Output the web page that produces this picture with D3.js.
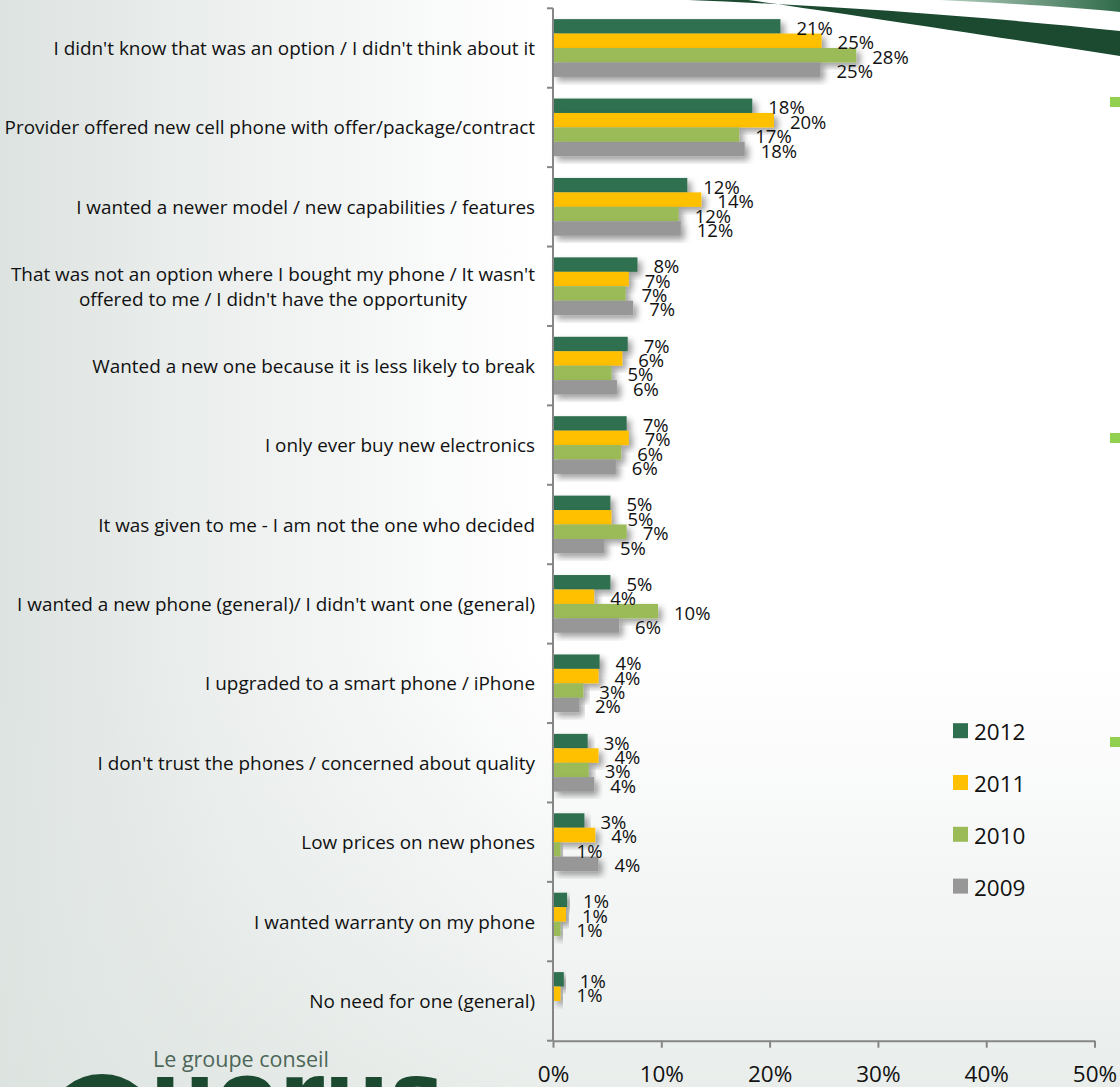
<!DOCTYPE html>
<html>
<head>
<meta charset="utf-8">
<script src="https://cdn.jsdelivr.net/npm/d3@7"></script>
<style>
  html, body { margin: 0; padding: 0; overflow: hidden; background: #ffffff; }
  svg { display: block; }
</style>
</head>
<body>
<svg id="chart" width="1120" height="1087"></svg>
<script>
// Reasons for buying a new (rather than refurbished) cell phone, by survey year
const categories = [
  "I didn't know that was an option / I didn't think about it",
  "Provider offered new cell phone with offer/package/contract",
  "I wanted a newer model / new capabilities / features",
  "That was not an option where I bought my phone / It wasn't\noffered to me / I didn't have the opportunity",
  "Wanted a new one because it is less likely to break",
  "I only ever buy new electronics",
  "It was given to me - I am not the one who decided",
  "I wanted a new phone (general)/ I didn't want one (general)",
  "I upgraded to a smart phone / iPhone",
  "I don't trust the phones / concerned about quality",
  "Low prices on new phones",
  "I wanted warranty on my phone",
  "No need for one (general)"
];

const seriesNames = ["2012", "2011", "2010", "2009"];

const values2012 = [21.0, 18.4, 12.4, 7.8, 6.9, 6.8, 5.3, 5.3, 4.3, 3.2, 2.9, 1.3, 1.0];
const values2011 = [24.8, 20.4, 13.7, 7.0, 6.4, 7.0, 5.4, 3.8, 4.2, 4.2, 3.9, 1.2, 0.7];
const values2010 = [28.0, 17.2, 11.6, 6.7, 5.4, 6.3, 6.8, 9.7, 2.8, 3.3, 0.7, 0.7, null];
const values2009 = [24.7, 17.7, 11.8, 7.4, 5.9, 5.8, 4.7, 6.1, 2.4, 3.8, 4.2, null, null];

const seriesColors = ["#2e6f4f", "#ffc000", "#9bbb59", "#979797"];
const xTicks = [0, 10, 20, 30, 40, 50];

const seriesValues = [values2012, values2011, values2010, values2009];

const W = 1120, H = 1087;
const FONT = "'Open Sans', 'Noto Sans', sans-serif";

const svg = d3.select("#chart");
const defs = svg.append("defs");

// ---- slide background ----
const gH = defs.append("linearGradient").attr("id", "bgH")
  .attr("x1", 0).attr("y1", 0).attr("x2", 1).attr("y2", 0);
gH.append("stop").attr("offset", 0).attr("stop-color", "#dde3e0");
gH.append("stop").attr("offset", 0.22).attr("stop-color", "#eef1f0");
gH.append("stop").attr("offset", 0.48).attr("stop-color", "#ffffff");
gH.append("stop").attr("offset", 1).attr("stop-color", "#ffffff");

const gV = defs.append("linearGradient").attr("id", "bgV")
  .attr("x1", 0).attr("y1", 0).attr("x2", 0).attr("y2", 1);
gV.append("stop").attr("offset", 0.6).attr("stop-color", "#e2e8e5").attr("stop-opacity", 0);
gV.append("stop").attr("offset", 1).attr("stop-color", "#dde4e0").attr("stop-opacity", 0.65);

svg.append("rect").attr("width", W).attr("height", H).attr("fill", "url(#bgH)");
svg.append("rect").attr("width", W).attr("height", H).attr("fill", "url(#bgV)");

// decorative swoosh, top right
const gSw = defs.append("linearGradient").attr("id", "swLight")
  .attr("x1", 0).attr("y1", 0).attr("x2", 1).attr("y2", 0);
gSw.append("stop").attr("offset", 0).attr("stop-color", "#b7cfc0");
gSw.append("stop").attr("offset", 1).attr("stop-color", "#2f6a4a");

svg.append("path")
  .attr("d", "M940,0 C1005,3 1070,7 1120,12 L1120,0 Z")
  .attr("fill", "url(#swLight)");
svg.append("path")
  .attr("d", "M688,0 C820,5 980,16 1120,31 L1120,56 C990,36 840,13 748,0 Z")
  .attr("fill", "#1b4a31");

// bullet squares of the slide at the right edge
[97, 433, 737].forEach(yy => {
  svg.append("rect").attr("x", 1110).attr("y", yy).attr("width", 10).attr("height", 10)
    .attr("fill", "#92d050");
});

// ---- logo, bottom left ----
const logo = svg.append("g");
logo.append("circle").attr("cx", 102).attr("cy", 1131).attr("r", 48)
  .attr("fill", "#d9dedb").attr("stroke", "#1c4a30").attr("stroke-width", 18);
logo.append("text").attr("x", 150).attr("y", 1128)
  .attr("font-family", "'DejaVu Sans', sans-serif").attr("font-weight", "bold")
  .attr("font-size", 92).attr("fill", "#1c4a30").text("uorus");
logo.append("text").attr("x", 153).attr("y", 1067)
  .attr("font-family", FONT).attr("font-size", 21.5).attr("fill", "#4d6658")
  .text("Le groupe conseil");

// ---- scales ----
const x = d3.scaleLinear().domain([0, 50]).range([553, 1094.5]);
const y = d3.scaleBand().domain(categories).range([8.3, 1040.7]).padding(0);
const inner = d3.scaleBand().domain(seriesNames).range([0, y.bandwidth()])
  .paddingInner(0).paddingOuter(0.75);

// drop shadow under bars
const sh = defs.append("filter").attr("id", "barShadow")
  .attr("x", "-10%").attr("y", "-30%").attr("width", "130%").attr("height", "180%");
sh.append("feDropShadow").attr("dx", 4).attr("dy", 4).attr("stdDeviation", 3)
  .attr("flood-color", "#000").attr("flood-opacity", 0.38);

// ---- bars ----
const rows = categories.map((c, i) => ({
  cat: c,
  items: seriesNames.map((s, k) => ({ s, k, v: seriesValues[k][i] }))
}));

const groups = svg.append("g").selectAll("g.cat").data(rows).join("g")
  .attr("class", "cat")
  .attr("transform", d => `translate(0,${y(d.cat)})`);

groups.selectAll("rect").data(d => d.items.filter(e => e.v != null)).join("rect")
  .attr("x", x(0))
  .attr("y", e => inner(e.s))
  .attr("width", e => x(e.v) - x(0))
  .attr("height", inner.bandwidth())
  .attr("fill", e => seriesColors[e.k])
  .attr("filter", "url(#barShadow)");

const fmt = d3.format(".0f");
groups.selectAll("text.val").data(d => d.items.filter(e => e.v != null)).join("text")
  .attr("class", "val")
  .attr("x", e => x(e.v) + 16)
  .attr("y", e => inner(e.s) + inner.bandwidth() / 2 + 1)
  .attr("dominant-baseline", "central")
  .attr("font-family", FONT).attr("font-size", 18.5).attr("fill", "#111")
  .text(e => fmt(e.v) + "%");

// ---- category axis (left) ----
const yAxis = svg.append("g");
yAxis.append("line")
  .attr("x1", x(0)).attr("x2", x(0))
  .attr("y1", y.range()[0]).attr("y2", y.range()[1])
  .attr("stroke", "#868686").attr("stroke-width", 2);
const bounds = categories.map(c => y(c)).concat([y.range()[1]]);
yAxis.selectAll("line.tick").data(bounds).join("line")
  .attr("class", "tick")
  .attr("x1", x(0) - 6).attr("x2", x(0))
  .attr("y1", d => d).attr("y2", d => d)
  .attr("stroke", "#868686").attr("stroke-width", 2);

const labelRight = 535;
const lineH = 25;
const catLabels = svg.append("g")
  .attr("font-family", FONT).attr("font-size", 18.9).attr("fill", "#111");
categories.forEach(c => {
  const lines = c.split("\n");
  const cy = y(c) + y.bandwidth() / 2;
  const t = catLabels.append("text").attr("dominant-baseline", "central");
  lines.forEach((ln, j) => {
    t.append("tspan").attr("y", cy + (j - (lines.length - 1) / 2) * lineH).text(ln);
  });
  // lines are centred on one another, the block is right aligned
  const spans = t.selectAll("tspan").nodes();
  const widths = spans.map(n => n.getComputedTextLength());
  const maxW = d3.max(widths);
  const centre = labelRight - maxW / 2;
  t.attr("text-anchor", "middle");
  t.selectAll("tspan").attr("x", centre);
});

// ---- value axis (bottom) ----
const xAxis = svg.append("g")
  .attr("transform", `translate(0,${y.range()[1]})`)
  .call(d3.axisBottom(x).tickValues(xTicks).tickFormat(d => d + "%")
    .tickSize(7).tickSizeOuter(0));
xAxis.select(".domain").attr("stroke", "#868686").attr("stroke-width", 2);
xAxis.selectAll(".tick line").attr("stroke", "#868686").attr("stroke-width", 2);
xAxis.selectAll(".tick text")
  .attr("y", 41).attr("dy", null)
  .attr("font-family", FONT).attr("font-size", 22.5).attr("fill", "#111");

// ---- legend ----
const legend = svg.append("g").selectAll("g").data(seriesNames).join("g")
  .attr("transform", (d, i) => `translate(953,${730.7 + i * 51.8})`);
legend.append("rect").attr("x", 0).attr("y", -7.5).attr("width", 15).attr("height", 15)
  .attr("fill", (d, i) => seriesColors[i]);
legend.append("text").attr("x", 21).attr("y", 1).attr("dominant-baseline", "central")
  .attr("font-family", FONT).attr("font-size", 22.5).attr("fill", "#111")
  .text(d => d);
</script>
</body>
</html>
